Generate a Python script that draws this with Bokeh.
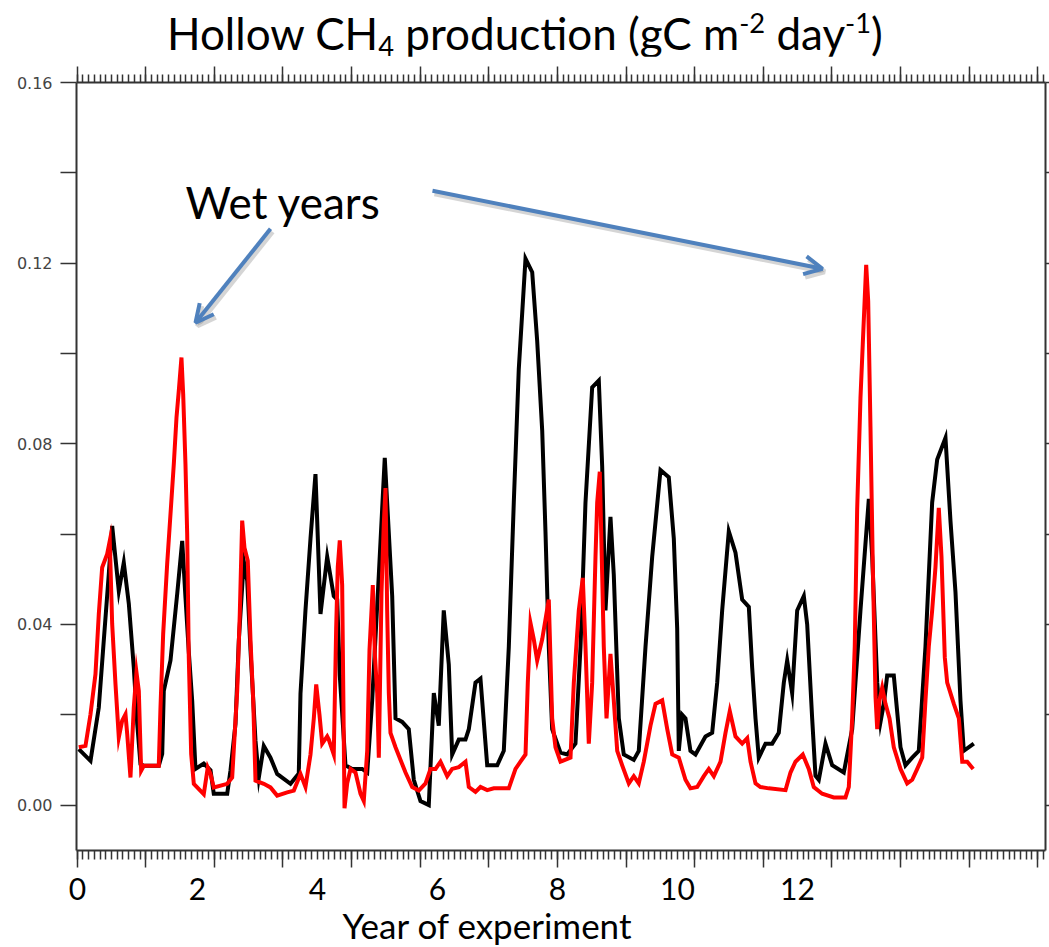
from bokeh.plotting import figure
from bokeh.layouts import column
from bokeh.models import (Range1d, LinearAxis, FixedTicker, SingleIntervalTicker,
                          PrintfTickFormatter, Label, Arrow, OpenHead, Div)
from bokeh.embed import file_html
from bokeh.resources import INLINE

# Hollow CH4 production, months since start of experiment
black_month = [0.28, 2.33, 3.78, 4.65, 5.53, 6.12, 7.28, 8.15, 9.03, 9.90, 10.50, 11.07, 11.65,
               14.27, 14.87, 15.15, 16.32, 17.49, 18.37, 18.94, 19.52, 20.12, 20.69, 22.14, 23.32,
               23.89, 26.24, 26.82, 27.69, 28.27, 29.14, 29.74, 30.32, 31.19, 31.77, 32.64, 33.81,
               34.98, 37.31, 38.76, 39.06, 39.93, 40.81, 41.68, 41.98, 42.56, 43.73, 44.88, 45.48,
               45.93, 46.93, 48.10, 49.85, 50.73, 51.60, 52.76, 53.80, 55.10, 55.68, 56.85, 58.00,
               58.88, 60.05, 61.50, 62.38, 63.25, 64.12, 65.00, 65.59, 66.75, 67.92, 68.50, 69.67,
               70.54, 71.72, 73.47, 74.62, 75.50, 76.37, 77.24, 78.42, 79.59, 80.46, 81.34, 81.91,
               82.49, 83.08, 84.54, 85.71, 87.16, 88.04, 88.91, 90.08, 91.24, 91.83, 92.41, 93.28,
               93.86, 94.74, 95.61, 97.36, 98.23, 99.41, 100.58, 102.03, 103.48, 104.36, 104.95,
               105.23, 105.82, 106.40, 107.27, 108.15, 109.90, 111.07, 111.95, 112.82, 113.98,
               115.15, 116.32, 117.48, 118.07, 118.65, 119.22, 120.40, 121.57, 122.72, 123.60,
               124.19, 125.06, 125.94, 127.10, 127.69, 128.56, 129.14, 129.72, 130.89, 132.06,
               134.09, 135.56, 137.01, 138.47, 139.06, 139.94, 140.51, 141.09, 141.68, 142.84,
               144.01, 144.88, 146.06, 147.21, 148.38, 149.55, 150.43, 151.88, 152.75, 153.63,
               154.50, 155.08, 156.83]
black_flux = [0.0124, 0.0098, 0.0216, 0.0364, 0.0512, 0.0618, 0.0474, 0.0537, 0.0446, 0.0305, 0.018,
              0.0091, 0.0087, 0.0087, 0.0113, 0.0253, 0.032, 0.0467, 0.0585, 0.046, 0.034, 0.023,
              0.008, 0.0092, 0.0077, 0.0025, 0.0025, 0.0077, 0.018, 0.0364, 0.054, 0.0497, 0.0342,
              0.0142, 0.0061, 0.0131, 0.0105, 0.0069, 0.0047, 0.007, 0.0247, 0.0431, 0.059, 0.0733,
              0.063, 0.0423, 0.055, 0.0463, 0.0455, 0.0287, 0.0088, 0.008, 0.008, 0.0072, 0.0232,
              0.051, 0.0769, 0.0463, 0.0192, 0.0184, 0.0168, 0.0056, 0.0009, 0.0, 0.0248, 0.0176,
              0.0431, 0.0311, 0.0112, 0.0145, 0.0145, 0.0168, 0.0271, 0.028, 0.0088, 0.0088, 0.012,
              0.0351, 0.067, 0.0965, 0.121, 0.118, 0.1028, 0.0829, 0.0606, 0.0351, 0.0168, 0.0116,
              0.0112, 0.0136, 0.0351, 0.067, 0.0925, 0.094, 0.075, 0.0431, 0.0638, 0.051, 0.0192,
              0.0112, 0.01, 0.012, 0.0351, 0.055, 0.0742, 0.0726, 0.059, 0.0391, 0.012, 0.02, 0.0192,
              0.012, 0.0112, 0.0152, 0.016, 0.0271, 0.0431, 0.0606, 0.0559, 0.0455, 0.0439, 0.0304,
              0.0192, 0.0105, 0.0136, 0.0136, 0.016, 0.0271, 0.032, 0.0248, 0.0431, 0.0463, 0.04,
              0.0192, 0.0065, 0.0056, 0.0136, 0.0088, 0.0072, 0.0168, 0.0431, 0.0678, 0.055, 0.0271,
              0.0184, 0.0224, 0.0287, 0.0287, 0.0128, 0.0088, 0.0105, 0.012, 0.0351, 0.067, 0.0765,
              0.0813, 0.063, 0.0471, 0.0232, 0.012, 0.0136]

red_month = [0.28, 1.45, 2.33, 3.20, 3.78, 4.37, 5.25, 5.70, 6.12, 6.70, 7.28, 7.87, 8.45, 8.75,
             9.32, 9.90, 10.37, 10.78, 11.19, 11.65, 14.27, 14.57, 15.04, 15.74, 16.32, 16.90,
             17.37, 17.77, 18.24, 18.54, 18.94, 19.24, 19.52, 19.94, 20.40, 22.14, 22.84, 23.32,
             23.89, 26.24, 27.11, 27.99, 28.44, 28.86, 29.26, 29.84, 30.32, 30.79, 31.19, 32.64,
             33.81, 34.98, 36.73, 37.89, 39.06, 39.93, 40.81, 41.39, 41.81, 42.38, 42.86, 43.73,
             44.01, 44.88, 45.30, 45.58, 45.93, 46.35, 46.76, 47.23, 47.81, 48.68, 49.56, 50.13,
             50.73, 51.13, 51.71, 52.06, 52.48, 52.76, 53.23, 53.63, 53.93, 54.22, 54.51, 54.80,
             55.68, 57.43, 58.60, 59.75, 60.93, 61.80, 62.68, 63.55, 64.72, 65.59, 66.75, 67.92,
             68.50, 69.67, 70.54, 71.72, 72.87, 75.50, 76.67, 77.54, 78.42, 78.82, 79.29, 79.87,
             80.46, 81.34, 82.49, 83.08, 83.66, 84.54, 86.29, 86.87, 87.74, 88.44, 88.91, 89.49,
             90.08, 90.66, 90.96, 91.41, 91.83, 92.11, 92.59, 93.28, 93.86, 94.46, 95.33, 96.49,
             97.36, 98.23, 99.11, 100.28, 101.16, 102.33, 103.21, 104.08, 105.23, 106.40, 107.27,
             108.45, 109.61, 110.48, 111.36, 112.53, 113.40, 114.15, 115.15, 116.32, 117.20,
             117.78, 118.65, 119.52, 120.97, 123.90, 124.77, 125.64, 126.92, 127.97, 128.84,
             130.31, 132.34, 134.39, 134.97, 135.56, 136.01, 136.43, 137.01, 137.41, 138.01,
             138.36, 138.76, 139.17, 139.64, 139.94, 140.34, 140.81, 141.39, 142.09, 142.84,
             144.01, 145.18, 146.06, 146.94, 147.81, 148.38, 148.96, 149.55, 150.13, 150.71,
             151.18, 151.76, 152.18, 153.34, 154.22, 154.81, 155.68, 156.73]
red_flux = [0.0128, 0.0131, 0.0201, 0.029, 0.0423, 0.0526, 0.0556, 0.0585, 0.0401, 0.0268, 0.015,
            0.0187, 0.0201, 0.0157, 0.0061, 0.0216, 0.0294, 0.0253, 0.0076, 0.0087, 0.0087, 0.0216,
            0.0379, 0.0534, 0.0644, 0.0755, 0.0858, 0.0917, 0.0991, 0.091, 0.0755, 0.06, 0.0327,
            0.0113, 0.0047, 0.0024, 0.0083, 0.0069, 0.0039, 0.0047, 0.0061, 0.0253, 0.0423, 0.063,
            0.057, 0.0541, 0.0364, 0.0231, 0.0054, 0.0047, 0.0039, 0.0021, 0.0028, 0.0032, 0.0069,
            0.004, 0.0112, 0.0192, 0.0267, 0.02, 0.0136, 0.0152, 0.0145, 0.0112, 0.0391, 0.0527,
            0.0586, 0.0487, -0.0007, 0.0048, 0.008, 0.0072, 0.0025, 0.0009, 0.012, 0.0343, 0.0487,
            0.0335, 0.0248, 0.0105, 0.0471, 0.0622, 0.0702, 0.0431, 0.0248, 0.016, 0.0128, 0.0072,
            0.004, 0.0032, 0.0048, 0.008, 0.008, 0.0096, 0.0064, 0.008, 0.0084, 0.0096, 0.004,
            0.0029, 0.004, 0.0033, 0.0037, 0.0037, 0.008, 0.0096, 0.0112, 0.0271, 0.0403, 0.0367,
            0.032, 0.0367, 0.0455, 0.0192, 0.0128, 0.0096, 0.0105, 0.0271, 0.0431, 0.0503, 0.0351,
            0.0136, 0.0271, 0.055, 0.067, 0.0738, 0.051, 0.0351, 0.0192, 0.0335, 0.0232, 0.012,
            0.0088, 0.0048, 0.0064, 0.0048, 0.0096, 0.0176, 0.0224, 0.0232, 0.0168, 0.0112, 0.0105,
            0.0056, 0.0037, 0.004, 0.0064, 0.008, 0.0064, 0.0096, 0.016, 0.0208, 0.0152, 0.0136,
            0.0148, 0.0096, 0.0048, 0.004, 0.0037, 0.0033, 0.0072, 0.0096, 0.0112, 0.008, 0.004,
            0.0025, 0.0017, 0.0017, 0.004, 0.0192, 0.0351, 0.0654, 0.0901, 0.102, 0.1196, 0.1116,
            0.0837, 0.0527, 0.024, 0.0168, 0.0232, 0.026, 0.0224, 0.0192, 0.0128, 0.008, 0.0048,
            0.0056, 0.008, 0.0105, 0.0232, 0.0351, 0.0431, 0.0527, 0.0658, 0.055, 0.0327, 0.0271,
            0.0224, 0.0192, 0.0096, 0.0096, 0.008]

# axis ticks
flux_ticks = [0.00, 0.04, 0.08, 0.12, 0.16]
flux_minor = [0.02, 0.06, 0.10, 0.14]
year_ticks = [0, 2, 4, 6, 8, 10, 12]
year_labels = ["0", "2", "4", "6", "8", "10", "12"]

MONTH_PX = 5.717          # screen pixels per month
FLUX_PX = 4516.0          # screen pixels per flux unit
W = 1049
TITLE_H, XLABEL_H = 56, 37
PLOT_H = 947 - TITLE_H - XLABEL_H
LEFT, RIGHT, TOP, BOTTOM = 76, 4, 26, 60
frame_w = W - LEFT - RIGHT
frame_h = PLOT_H - TOP - BOTTOM
ZERO_Y = 804.3            # page row of the zero line

x0 = -0.12
y1 = 0.16
p = figure(width=W, height=PLOT_H, output_backend="svg", toolbar_location=None,
           x_range=Range1d(x0, x0 + frame_w / MONTH_PX),
           y_range=Range1d(y1 - frame_h / FLUX_PX, y1),
           min_border_left=LEFT, min_border_right=RIGHT,
           min_border_top=TOP, min_border_bottom=BOTTOM,
           x_axis_location=None, y_axis_location=None, margin=0)
p.xgrid.visible = False
p.ygrid.visible = False
p.outline_line_color = None
p.background_fill_color = "white"
p.border_fill_color = "white"

# second horizontal scale for the year labels
yr_px = 60.0
yr0 = (LEFT - 77) / yr_px
p.extra_x_ranges = {"yr": Range1d(yr0, yr0 + frame_w / yr_px)}

AX = "#333333"


def style_ticks(ax, out_major, out_minor):
    ax.axis_line_color = AX
    ax.axis_line_width = 2
    ax.major_tick_line_color = AX
    ax.minor_tick_line_color = AX
    ax.major_tick_line_width = 1.5
    ax.minor_tick_line_width = 1.5
    ax.major_tick_in = 0
    ax.minor_tick_in = 0
    ax.major_tick_out = out_major
    ax.minor_tick_out = out_minor


def hide_labels(ax):
    ax.major_label_text_font_size = "0px"
    ax.major_label_text_color = None
    ax.major_label_standoff = 0


# flux axes: labels on the left, bare ticks on the right
left = LinearAxis(ticker=FixedTicker(ticks=flux_ticks, minor_ticks=flux_minor),
                  formatter=PrintfTickFormatter(format="%.2f"))
style_ticks(left, 16, 16)
left.major_label_standoff = 8
left.major_label_text_font = "DejaVu Sans"
left.major_label_text_font_size = "16px"
left.major_label_text_color = "#444444"
p.add_layout(left, "left")

right = LinearAxis(ticker=FixedTicker(ticks=flux_ticks, minor_ticks=flux_minor))
style_ticks(right, 4, 4)
hide_labels(right)
p.add_layout(right, "right")

# month axes (bottom and top), yearly major ticks with monthly minor ticks
for loc in ("below", "above"):
    ax = LinearAxis(ticker=SingleIntervalTicker(interval=12, num_minor_ticks=12))
    style_ticks(ax, 17 if loc == "below" else 16, 9 if loc == "below" else 8)
    hide_labels(ax)
    p.add_layout(ax, loc)

# year labels underneath
yr_axis = LinearAxis(x_range_name="yr", ticker=FixedTicker(ticks=year_ticks),
                     major_label_overrides=dict(zip(year_ticks, year_labels)))
yr_axis.axis_line_color = None
yr_axis.major_tick_line_color = None
yr_axis.minor_tick_line_color = None
yr_axis.major_label_standoff = 4
yr_axis.major_label_text_font = "Lato"
yr_axis.major_label_text_font_size = "30px"
yr_axis.major_label_text_color = "black"
p.add_layout(yr_axis, "below")

# series
p.line(black_month, black_flux, line_color="black", line_width=4, line_join="miter")
p.line(red_month, red_flux, line_color="#ff0000", line_width=4, line_join="miter")


def yr_x(px):
    return (px - 77) / yr_px


def flux_y(py):
    # py is a row of the whole page
    return (ZERO_Y - py) / FLUX_PX


p.add_layout(Label(x=yr_x(185), y=flux_y(201), x_range_name="yr", text="Wet years",
                   text_font="Lato", text_font_size="44px", text_color="black",
                   text_baseline="alphabetic"))

# arrows pointing at the wet-year peaks
ARROW = "#4f81bd"
arrows = [((270, 228), (195, 322)), ((432, 190), (822, 268))]
for (sx, sy), (ex, ey) in arrows:
    p.add_layout(Arrow(x_range_name="yr", x_start=yr_x(sx + 2), y_start=flux_y(sy + 3),
                       x_end=yr_x(ex + 2), y_end=flux_y(ey + 3),
                       line_color="#888888", line_alpha=0.35, line_width=5,
                       end=OpenHead(line_color="#888888", line_alpha=0.35, line_width=5, size=18)))
    p.add_layout(Arrow(x_range_name="yr", x_start=yr_x(sx), y_start=flux_y(sy),
                       x_end=yr_x(ex), y_end=flux_y(ey),
                       line_color=ARROW, line_width=4,
                       end=OpenHead(line_color=ARROW, line_width=4, size=18)))

SUB = "font-size:0.62em;vertical-align:-0.22em;line-height:0"
SUP = "font-size:0.62em;vertical-align:0.62em;line-height:0"
title = Div(
    text=(f'<div style="font-family:Lato;font-size:44px;line-height:54px;color:black;'
          f'padding:6px 0 0 167px;white-space:nowrap">'
          f'Hollow CH<span style="{SUB}">4</span> production (gC m<span style="{SUP}">-2</span>'
          f' day<span style="{SUP}">-1</span>)</div>'),
    width=W, height=TITLE_H, margin=0)

xlabel = Div(
    text=('<div style="font-family:Lato;font-size:35px;line-height:30px;color:black;'
          'width:974px;text-align:center;white-space:nowrap">Year of experiment</div>'),
    width=W, height=XLABEL_H, margin=0)

page = column(title, p, xlabel, spacing=0, margin=0)

open("out.html", "w").write(file_html(page, INLINE))
